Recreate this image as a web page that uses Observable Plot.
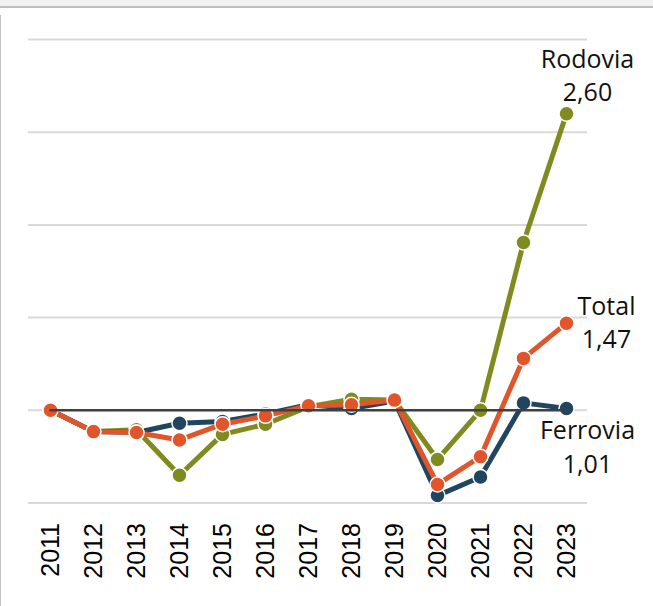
<!DOCTYPE html>
<html>
<head>
<meta charset="utf-8">
<script src="https://cdn.jsdelivr.net/npm/d3@7"></script>
<script src="https://cdn.jsdelivr.net/npm/@observablehq/plot@0.6"></script>
<style>
  html, body { margin: 0; padding: 0; background: #fff; }
  #wrap { position: relative; width: 653px; height: 606px; overflow: hidden; }
  #strip { position: absolute; left: 0; top: 0; width: 653px; height: 6px; background: #f2f2f2; border-bottom: 2px solid #bfbfbf; }
  #leftline { position: absolute; left: 0; top: 15px; width: 1px; height: 591px; background: #c4c4c4; }
  svg { position: absolute; left: 0; top: 0; }
</style>
</head>
<body>
<div id="wrap"><div id="strip"></div><div id="leftline"></div></div>
<script>
const years = ["2011","2012","2013","2014","2015","2016","2017","2018","2019","2020","2021","2022","2023"];
const ferrovia = [1.00, 0.885, 0.88, 0.93, 0.94, 0.98, 1.03, 1.01, 1.05, 0.54, 0.64, 1.04, 1.01];
const rodovia  = [1.00, 0.885, 0.895, 0.65, 0.87, 0.925, 1.02, 1.06, 1.055, 0.735, 1.00, 1.905, 2.60];
const total    = [1.00, 0.885, 0.88, 0.84, 0.925, 0.97, 1.025, 1.03, 1.055, 0.60, 0.75, 1.28, 1.47];
const seriesNames = ["Ferrovia", "Rodovia", "Total"];
const seriesColors = ["#1f4560", "#7f8b1e", "#e0562a"];
const gridValues = [0.5, 1.0, 1.5, 2.0, 2.5, 3.0];
const baseline = 1.0;

const seriesValues = {Ferrovia: ferrovia, Rodovia: rodovia, Total: total};
const rows = [];
for (const name of ["Rodovia", "Ferrovia", "Total"]) {
  seriesValues[name].forEach((v, i) => rows.push({year: years[i], value: v, series: name}));
}
const last = years.length - 1;
const fmt = v => v.toFixed(2).replace(".", ",");
const lab = name => [{year: years[last], value: seriesValues[name][last], series: name}];
const color = {domain: seriesNames, range: seriesColors};

const labelFont = "'Open Sans', 'Noto Sans', sans-serif";
const labelMarks = [];
const offsets = {Rodovia: {dx: 21, dy1: -54, dy2: -21}, Total: {dx: 40, dy1: -16, dy2: 17}, Ferrovia: {dx: 21, dy1: 23, dy2: 57}};
for (const name of seriesNames) {
  const o = offsets[name];
  labelMarks.push(Plot.text(lab(name), {x: "year", y: "value", text: d => d.series, dx: o.dx, dy: o.dy1, fontSize: 25, fontFamily: labelFont, fill: "#111", textAnchor: "middle"}));
  labelMarks.push(Plot.text(lab(name), {x: "year", y: "value", text: d => fmt(d.value), dx: o.dx, dy: o.dy2, fontSize: 25, fontFamily: labelFont, fill: "#111", textAnchor: "middle"}));
}

const chart = Plot.plot({
  width: 653,
  height: 606,
  marginTop: 39,
  marginBottom: 103.5,
  marginLeft: 28,
  marginRight: 66,
  style: {background: "transparent", fontFamily: "'Liberation Sans', Arial, sans-serif"},
  x: {type: "point", domain: years, padding: 0.5, label: null},
  y: {domain: [0.5, 3.0], label: null, axis: null},
  color,
  marks: [
    Plot.ruleY(gridValues, {stroke: "#d9d9d9", strokeWidth: 2}),
    Plot.axisX({tickRotate: -90, tickSize: 0, tickPadding: 20, fontSize: 25, fill: "#000", label: null}),
    ...["Rodovia", "Ferrovia", "Total"].flatMap(name => [
      Plot.line(rows.filter(d => d.series === name), {x: "year", y: "value", stroke: "series", strokeWidth: 5, strokeLinejoin: "round"}),
      Plot.dot(rows.filter(d => d.series === name), {x: "year", y: "value", fill: "series", r: 7.5, stroke: "#fff", strokeWidth: 1.5})
    ]),
    Plot.line([{year: years[0], value: baseline}, {year: years[last], value: baseline}], {x: "year", y: "value", stroke: "#404040", strokeWidth: 2.5}),
    ...labelMarks
  ]
});
document.getElementById("wrap").appendChild(chart);
</script>
</body>
</html>
